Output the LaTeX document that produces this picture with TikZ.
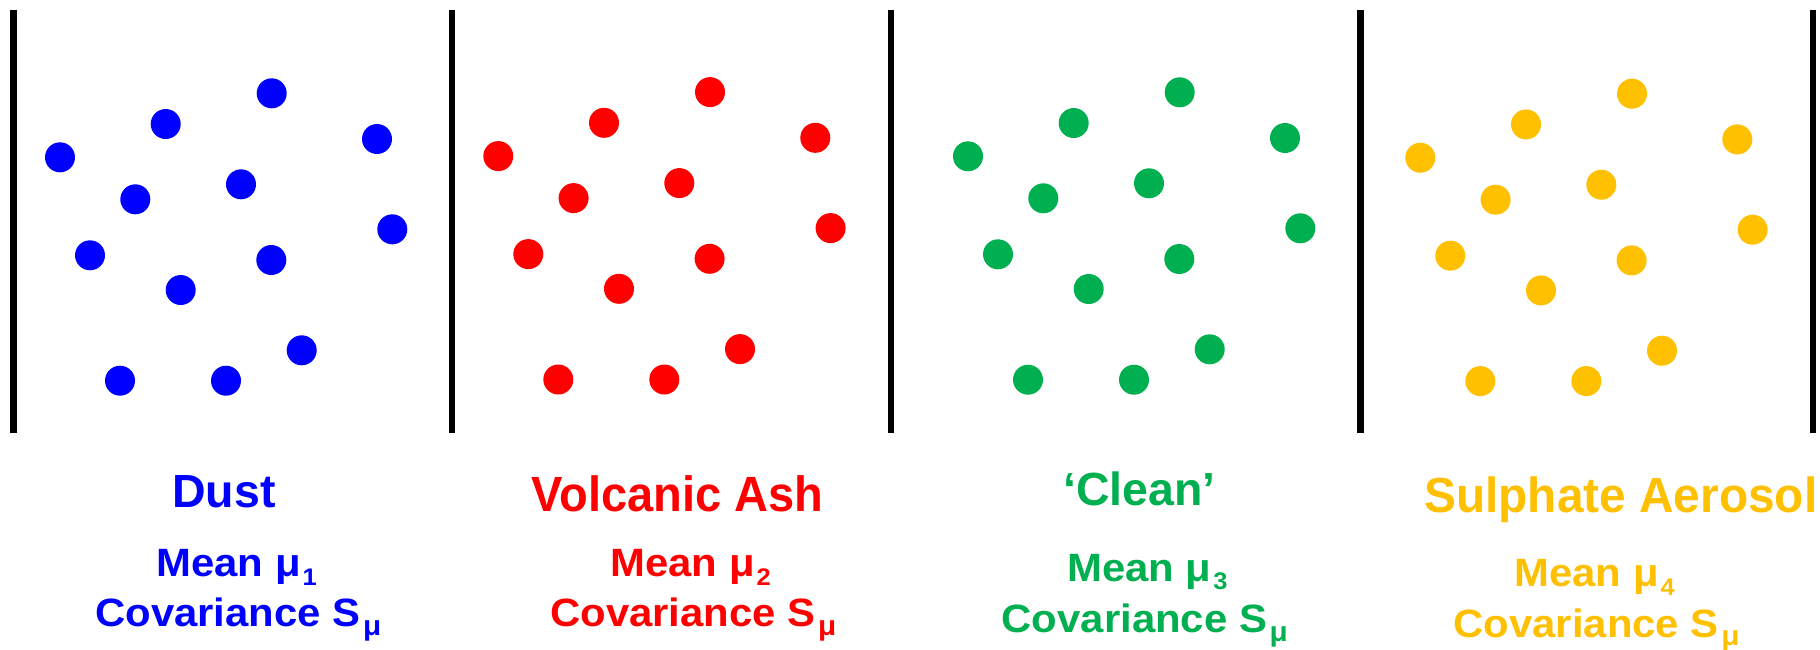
\documentclass[tikz,border=0pt]{standalone}
\usepackage{fontspec}
\setmainfont{Liberation Sans}
\newfontfamily\infofont[FakeStretch=1.06]{Liberation Sans}
\newfontfamily\narrowfont[FakeStretch=0.95]{Liberation Sans}
\newfontfamily\semifont[FakeStretch=0.97]{Liberation Sans}
\definecolor{cblue}{HTML}{0000FF}
\definecolor{cred}{HTML}{FF0000}
\definecolor{cgreen}{HTML}{00B050}
\definecolor{cyellow}{HTML}{FFC000}
\newcommand{\mysub}[3]{\hspace{#1}\raisebox{-8.5pt}{\fontsize{#2}{#2}\selectfont #3}}
\newcommand{\dotpattern}[1]{%
  \foreach \p in {(271.7,93.3),(165.7,124.0),(60.0,157.3),(377.0,139.0),(135.3,199.3),(241.0,184.3),(392.3,229.3),(90.0,255.3),(271.3,260.0),(180.7,290.0),(301.7,350.3),(120.0,380.7),(226.0,380.7)}
    {\fill[#1] \p circle[radius=15pt];}}
\tikzset{
  divider/.style={line width=6.5pt, black},
  title/.style={anchor=base west, inner sep=0pt, font=\bfseries\fontsize{46.5}{50}\selectfont},
  ashtitle/.style={anchor=base west, inner sep=0pt, font=\narrowfont\bfseries\fontsize{49.5}{52}\selectfont},
  sulphtitle/.style={anchor=base west, inner sep=0pt, font=\semifont\bfseries\fontsize{49.3}{52}\selectfont},
  info/.style={anchor=base west, inner sep=0pt, font=\infofont\bfseries\fontsize{39.5}{44}\selectfont},
}
\begin{document}
\begin{tikzpicture}[x=1pt,y=-1pt]
\useasboundingbox (0,0) rectangle (1820,649);
\fill[white] (0,0) rectangle (1820,649);
% dividers
\coordinate (t1) at (13.7,9.5);  \coordinate (b1) at (13.7,433);
\coordinate (t2) at (452,9.5);   \coordinate (b2) at (452,433);
\coordinate (t3) at (891,9.5);   \coordinate (b3) at (891,433);
\coordinate (t4) at (1360.3,9.5);\coordinate (b4) at (1360.3,433);
\coordinate (t5) at (1813,9.5);  \coordinate (b5) at (1813,433);
\draw[divider] (t1) -- (b1);
\draw[divider] (t2) -- (b2);
\draw[divider] (t3) -- (b3);
\draw[divider] (t4) -- (b4);
\draw[divider] (t5) -- (b5);
% dots
\begin{scope}\dotpattern{cblue}\end{scope}
\begin{scope}[shift={(438.3,-1.2)}]\dotpattern{cred}\end{scope}
\begin{scope}[shift={(908,-1)}]\dotpattern{cgreen}\end{scope}
\begin{scope}[shift={(1360.3,0.4)}]\dotpattern{cyellow}\end{scope}
% labels
\node[title, text=cblue] (dust) at (172,507.3) {Dust};
\node[info, text=cblue] (mean1) at (156.2,576.7) {Mean μ\mysub{2pt}{24}{1}};
\node[info, text=cblue] (cov1) at (95,626.7) {Covariance S\mysub{2.5pt}{28}{μ}};
\node[ashtitle, text=cred] (ash) at (531.5,511) {Volcanic Ash};
\node[info, text=cred] (mean2) at (610.2,576.7) {Mean μ\mysub{2pt}{24}{2}};
\node[info, text=cred] (cov2) at (550,626.7) {Covariance S\mysub{2.5pt}{28}{μ}};
\node[title, text=cgreen] (clean) at (1063,505) {‘Clean’};
\node[info, text=cgreen] (mean3) at (1067,581) {Mean μ\mysub{2pt}{24}{3}};
\node[info, text=cgreen] (cov3) at (1001.5,632.7) {Covariance S\mysub{2.5pt}{28}{μ}};
\node[sulphtitle, text=cyellow] (sulph) at (1424,512.7) {Sulphate Aerosol};
\node[info, text=cyellow] (mean4) at (1514.2,586.7) {Mean μ\mysub{2pt}{24}{4}};
\node[info, text=cyellow] (cov4) at (1453.3,637.3) {Covariance S\mysub{2.5pt}{28}{μ}};
\end{tikzpicture}
\end{document}
